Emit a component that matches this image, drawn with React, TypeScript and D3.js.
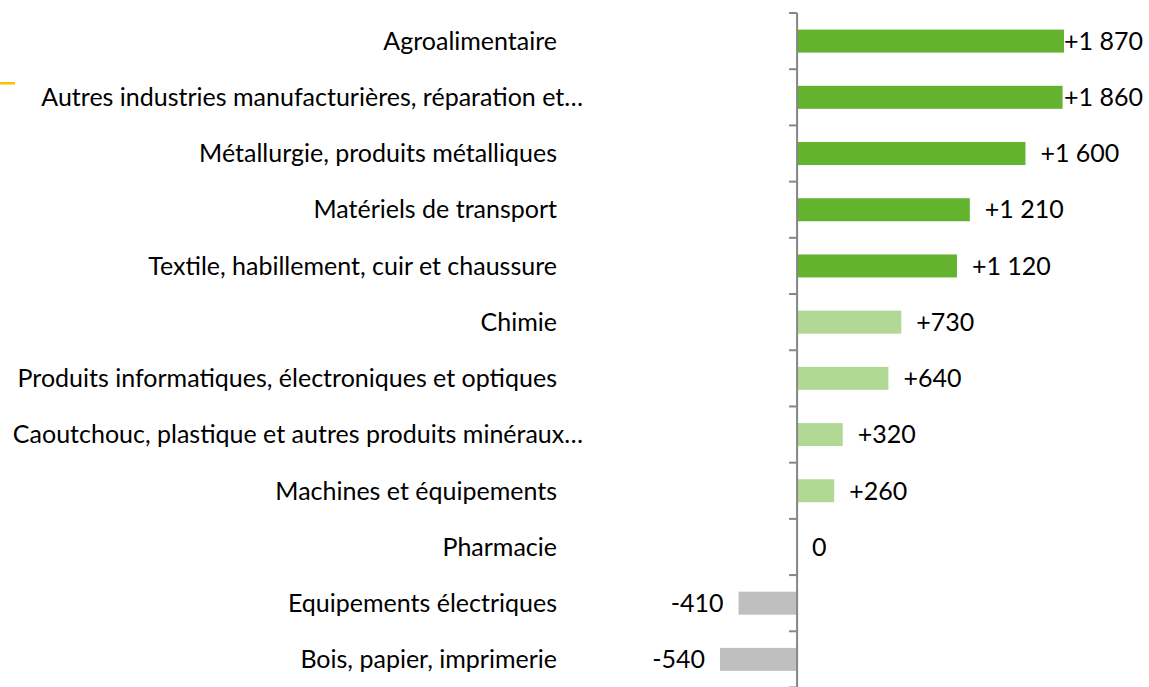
import React, { useEffect, useRef } from "react";
import * as d3 from "d3";

const categories = [
  "Agroalimentaire",
  "Autres industries manufacturières, réparation et…",
  "Métallurgie, produits métalliques",
  "Matériels de transport",
  "Textile, habillement, cuir et chaussure",
  "Chimie",
  "Produits informatiques, électroniques et optiques",
  "Caoutchouc, plastique et autres produits minéraux…",
  "Machines et équipements",
  "Pharmacie",
  "Equipements électriques",
  "Bois, papier, imprimerie",
];

const values = [1870, 1860, 1600, 1210, 1120, 730, 640, 320, 260, 0, -410, -540];

const valueLabels = [
  "+1 870", "+1 860", "+1 600", "+1 210", "+1 120", "+730",
  "+640", "+320", "+260", "0", "-410", "-540",
];

const W = 1149;
const H = 687;
const FONT = "Lato, 'Open Sans', sans-serif";

export default function App() {
  const ref = useRef<SVGSVGElement>(null);

  useEffect(() => {
    document.body.style.margin = "0";
    const svg = d3.select(ref.current);
    svg.selectAll("*").remove();

    const x = d3.scaleLinear().domain([-540, 1870]).range([720, 1064]);
    const y = d3.scaleBand<string>().domain(categories).range([13, 687.5]).padding(0);
    const barH = 23;
    const x0 = x(0);

    const color = (v: number) => (v > 1000 ? "#63b32e" : v > 0 ? "#b1d995" : "#bfbfbf");

    // small yellow mark top-left
    svg.append("rect").attr("x", 0).attr("y", 82).attr("width", 15).attr("height", 2.5).attr("fill", "#f5c400");

    // bars
    svg.append("g")
      .selectAll("rect")
      .data(values)
      .join("rect")
      .attr("x", d => Math.min(x(d), x0))
      .attr("y", (d, i) => y(categories[i])! + y.bandwidth() / 2 - barH / 2)
      .attr("width", d => Math.abs(x(d) - x0))
      .attr("height", barH)
      .attr("fill", d => color(d));

    // axis line + ticks
    const ax = svg.append("g").attr("stroke", "#868686").attr("stroke-width", 2);
    ax.append("line").attr("x1", x0).attr("x2", x0).attr("y1", 13).attr("y2", H);
    const tickYs = categories.map(c => y(c)!).concat([y.range()[1]]);
    ax.selectAll("line.tick")
      .data(tickYs)
      .join("line")
      .attr("class", "tick")
      .attr("x1", x0 - 8)
      .attr("x2", x0)
      .attr("y1", d => d)
      .attr("y2", d => d);

    // category labels
    svg.append("g")
      .selectAll("text")
      .data(categories)
      .join("text")
      .attr("x", d => (d.endsWith("…") ? 583 : 557))
      .attr("y", d => y(d)! + y.bandwidth() / 2)
      .attr("dy", "0.35em")
      .attr("text-anchor", "end")
      .attr("font-family", FONT)
      .attr("font-size", 25)
      .attr("fill", "#000")
      .text(d => d);

    // value labels
    svg.append("g")
      .selectAll("text")
      .data(values)
      .join("text")
      .attr("x", d => (d < 0 ? x(d) - 15 : Math.min(x(d) + 15, 1064)))
      .attr("y", (d, i) => y(categories[i])! + y.bandwidth() / 2)
      .attr("dy", "0.35em")
      .attr("text-anchor", d => (d < 0 ? "end" : "start"))
      .attr("font-family", FONT)
      .attr("font-size", 25)
      .attr("fill", "#000")
      .text((d, i) => valueLabels[i]);
  }, []);

  return <svg ref={ref} width={W} height={H} style={{ display: "block", background: "#fff" }} />;
}
